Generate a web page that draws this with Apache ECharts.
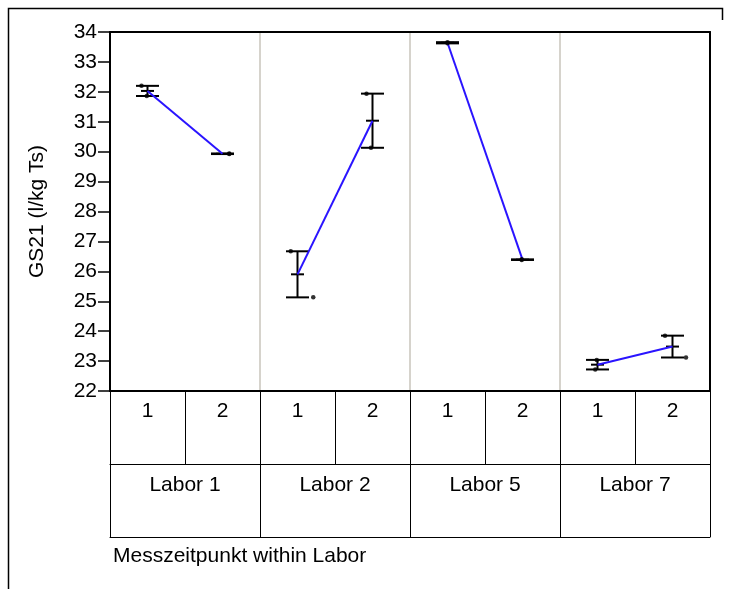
<!DOCTYPE html>
<html>
<head>
<meta charset="utf-8">
<script src="https://cdn.jsdelivr.net/npm/echarts@6/dist/echarts.min.js"></script>
<style>
html,body{margin:0;padding:0;background:#fff;}
#chart{width:731px;height:589px;}
</style>
</head>
<body>
<div id="chart"></div>
<script>
// ---- data ----
const labs = ['Labor 1', 'Labor 2', 'Labor 5', 'Labor 7'];
const times = ['1', '2'];
// two replicate measurements per (Labor, Messzeitpunkt), order: L1-1, L1-2, L2-1, L2-2, L5-1, L5-2, L7-1, L7-2
const rep1 = [32.20, 29.94, 26.67, 31.94, 33.66, 26.40, 23.04, 23.85];
const rep2 = [31.86, 29.92, 25.13, 30.13, 33.62, 26.38, 22.72, 23.12];
// horizontal jitter of the plotted points (fraction of a cell)
const jitter1 = [-0.08, 0.09, -0.09, -0.08, 0.00, -0.01, -0.01, -0.10];
const jitter2 = [-0.01, 0.09, 0.21, -0.02, 0.00, -0.01, -0.03, 0.18];
const yTicks = {min: 22, max: 34, step: 1};

// ---- derived ----
const cells = [];
labs.forEach(l => times.forEach(t => cells.push(t)));
const means = rep1.map((v, i) => (v + rep2[i]) / 2);
const barData = rep1.map((v, i) => [i + 0.5, Math.min(v, rep2[i]), Math.max(v, rep2[i]), means[i]]);
const dotData = [];
rep1.forEach((v, i) => {
  dotData.push([i + 0.5 + jitter1[i], v]);
  dotData.push([i + 0.5 + jitter2[i], rep2[i]]);
});
const lineSeries = labs.map((l, k) => ({
  type: 'line', xAxisIndex: 3, yAxisIndex: 0, z: 4,
  data: [[2 * k + 0.5, means[2 * k]], [2 * k + 1.5, means[2 * k + 1]]],
  symbol: 'none', lineStyle: {color: '#2a14ff', width: 2}, silent: true
}));

const FONT = 'Liberation Sans, Arial, sans-serif';
const FS = 21;
const chart = echarts.init(document.getElementById('chart'), null, {renderer: 'canvas'});
chart.setOption({
  animation: false,
  backgroundColor: '#fff',
  textStyle: {fontFamily: FONT, color: '#000'},
  title: {
    text: 'Messzeitpunkt within Labor', left: 108, top: 541,
    textStyle: {fontFamily: FONT, fontSize: FS, fontWeight: 'normal', color: '#000'}
  },
  grid: {left: 110, right: 21, top: 32, bottom: 198, show: false},
  graphic: [
    {type: 'polyline', shape: {points: [[8.5, 589], [8.5, 8.5], [722.5, 8.5], [722.5, 20]]},
     style: {stroke: '#000', lineWidth: 1.5, fill: null}, silent: true}
  ],
  xAxis: [
    { // Messzeitpunkt row
      type: 'category', data: cells, position: 'bottom', offset: 0, z: 6,
      axisLine: {show: true, onZero: false, lineStyle: {color: '#000', width: 2}},
      axisTick: {show: true, length: 73, inside: false, alignWithLabel: false, interval: 0, lineStyle: {color: '#000', width: 1}},
      axisLabel: {show: true, interval: 0, margin: 10, fontSize: FS, color: '#000', fontFamily: FONT},
      splitLine: {show: false}
    },
    { // Labor row
      type: 'category', data: labs, position: 'bottom', offset: 73, z: 6,
      axisLine: {show: true, onZero: false, lineStyle: {color: '#000', width: 1}},
      axisTick: {show: true, length: 73, inside: false, alignWithLabel: false, interval: 0, lineStyle: {color: '#000', width: 1}},
      axisLabel: {show: true, interval: 0, margin: 11, fontSize: FS, color: '#000', fontFamily: FONT},
      splitLine: {show: true, interval: 0, lineStyle: {color: '#d6d3cc', width: 2}}
    },
    { // bottom line of table
      type: 'category', data: [''], position: 'bottom', offset: 146, z: 6,
      axisLine: {show: true, onZero: false, lineStyle: {color: '#000', width: 1}},
      axisTick: {show: false}, axisLabel: {show: false}, splitLine: {show: false}
    },
    { // hidden value axis for marks
      type: 'value', min: 0, max: cells.length, show: false
    },
    { // top border
      type: 'value', min: 0, max: 1, position: 'top', z: 6,
      axisLine: {show: true, onZero: false, lineStyle: {color: '#000', width: 2}},
      axisTick: {show: false}, axisLabel: {show: false}, splitLine: {show: false}
    }
  ],
  yAxis: [
    {
      type: 'value', min: yTicks.min, max: yTicks.max, interval: yTicks.step, z: 6,
      name: 'GS21 (l/kg Ts)', nameLocation: 'middle', nameGap: 62, nameRotate: 90,
      nameTextStyle: {fontSize: FS, color: '#000', fontFamily: FONT},
      axisLine: {show: true, onZero: false, lineStyle: {color: '#000', width: 2}},
      axisTick: {show: true, length: 12, inside: false, lineStyle: {color: '#000', width: 1.5}},
      axisLabel: {margin: 13, fontSize: FS, color: '#000', fontFamily: FONT},
      splitLine: {show: false}
    },
    { // right border
      type: 'value', min: yTicks.min, max: yTicks.max, position: 'right', z: 6,
      axisLine: {show: true, onZero: false, lineStyle: {color: '#000', width: 2}},
      axisTick: {show: false}, axisLabel: {show: false}, splitLine: {show: false}
    }
  ],
  series: [
    {
      type: 'custom', xAxisIndex: 3, yAxisIndex: 0, z: 3, silent: true,
      data: barData,
      renderItem: function (params, api) {
        const x = api.value(0);
        const pLo = api.coord([x, api.value(1)]);
        const pHi = api.coord([x, api.value(2)]);
        const pM = api.coord([x, api.value(3)]);
        const cw = 11.5, mw = 6.5;
        const st = {stroke: '#000', lineWidth: 2};
        return {type: 'group', children: [
          {type: 'line', shape: {x1: pHi[0], y1: pHi[1], x2: pLo[0], y2: pLo[1]}, style: st},
          {type: 'line', shape: {x1: pHi[0] - cw, y1: pHi[1], x2: pHi[0] + cw, y2: pHi[1]}, style: st},
          {type: 'line', shape: {x1: pLo[0] - cw, y1: pLo[1], x2: pLo[0] + cw, y2: pLo[1]}, style: st},
          {type: 'line', shape: {x1: pM[0] - mw, y1: pM[1], x2: pM[0] + mw, y2: pM[1]}, style: st}
        ]};
      }
    },
    {
      type: 'scatter', xAxisIndex: 3, yAxisIndex: 0, z: 5, silent: true,
      data: dotData, symbol: 'circle', symbolSize: 4.5,
      itemStyle: {color: '#000'}
    }
  ].concat(lineSeries)
});
</script>
</body>
</html>
